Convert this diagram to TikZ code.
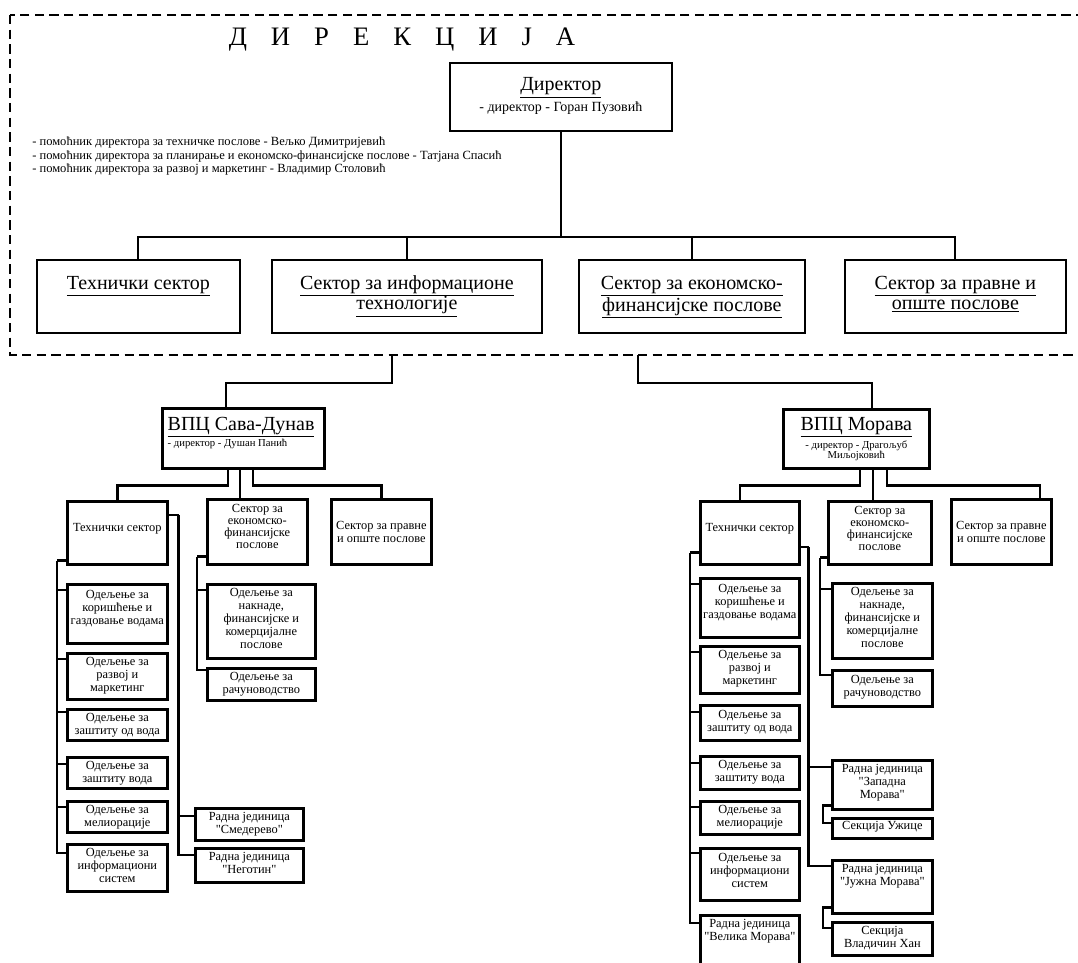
\documentclass[tikz,border=0pt]{standalone}
\usepackage{fontspec}
\setmainfont{Liberation Serif}
\usetikzlibrary{calc}

\newlength{\pxl}\setlength{\pxl}{0.75pt}
% box contents: [font/alignment]{width}{height}{top pad in pt}{text}
\newcommand{\boxtext}[5][]{\parbox[c][#3\pxl][t]{#2\pxl}{\centering#1\vspace*{#4pt}\strut#5}}
\newcommand{\qt}[1]{\textquotedbl#1\textquotedbl}

\tikzset{
  topbox/.style={draw, line width=1.3pt, inner sep=0pt, anchor=north west, font=\fontsize{15}{15.5}\selectfont},
  unit/.style={draw, line width=2pt, inner sep=0pt, anchor=north west, font=\fontsize{9.3}{9.75}\selectfont},
  toplink/.style={line width=1.5pt},
  link/.style={line width=1.8pt},
  border/.style={line width=1.5pt, dash pattern=on 7pt off 4pt},
}

\begin{document}
\begin{tikzpicture}[x=0.75pt, y=-0.75pt]
  \clip (0,0) rectangle (1078,963);
  \useasboundingbox (0,0) rectangle (1078,963);

  % Direkcija (top, dashed)
  \draw[border] (10,15) rectangle (1095,355);
  \node[font=\fontsize{20}{24}\selectfont, anchor=base] (title) at (402,46)
    {Д\hspace{18pt}И\hspace{18pt}Р\hspace{18pt}Е\hspace{18pt}К\hspace{18pt}Ц\hspace{18pt}И\hspace{18pt}Ј\hspace{18pt}А};
  \node[topbox] (dir) at (449,62)
    {\boxtext{222}{68}{10}{\underline{Директор}\\{\fontsize{10.5}{11}\selectfont - директор - Горан Пузовић}}};
  \node[anchor=north west, align=left, inner sep=0pt, font=\fontsize{9.4}{10}\selectfont] (asst) at (32,137)
    {- помоћник директора за техничке послове - Вељко Димитријевић\\
     - помоћник директора за планирање и економско-финансијске послове - Татјана Спасић\\
     - помоћник директора за развој и маркетинг - Владимир Столовић};

  % Sectors
  \node[topbox] (tech) at (36,259) {\boxtext{203}{73}{11}{\underline{Технички сектор}}};
  \node[topbox] (it) at (271,259) {\boxtext{270}{73}{11}{\underline{Сектор за информационе}\\\underline{технологије}}};
  \node[topbox] (econ) at (578,259) {\boxtext{226}{73}{11}{\underline{Сектор за економско-}\\\underline{финансијске послове}}};
  \node[topbox] (legal) at (844,259) {\boxtext{221}{73}{11}{\underline{Сектор за правне и}\\\underline{опште послове}}};

  \coordinate (busy) at (0,237);
  \draw[toplink] (dir.south) -- (dir.south |- busy);
  \draw[toplink] (tech.north) |- (dir.south |- busy) -| (legal.north);
  \draw[toplink] (it.north) -- (it.north |- busy);
  \draw[toplink] (econ.north) -- (econ.north |- busy);

  % VPC Sava-Dunav (left)
  \coordinate (outl) at (392,355);
  \node[unit] (vpcsd) at (161,407)
    {\boxtext[\fontsize{15}{15}\selectfont\raggedright\leftskip=4pt]{162}{60}{6}{\underline{ВПЦ Сава-Дунав}\\[-3pt]{\fontsize{8}{9}\selectfont - директор - Душан Панић}}};
  \draw[link] (outl) -- ++(0,28) -| ($(vpcsd.north west)+(65,0)$);

  \node[unit] (tsd) at (66,500) {\boxtext{100}{63}{16}{Технички сектор}};
  \node[unit] (esd) at (206,498) {\boxtext[\fontsize{9.3}{9.1}\selectfont]{100}{65}{3.5}{Сектор за\\економско-\\финансијске\\послове}};
  \node[unit] (psd) at (330,498) {\boxtext{100}{65}{16}{Сектор за правне\\и опште послове}};

  \coordinate (m1) at ($(vpcsd.south west)+(79,0)$);
  \draw[link] ($(vpcsd.south west)+(67,0)$) -- ++(0,16) -| (tsd.north);
  \draw[link] (m1) -- (m1 |- esd.north);
  \draw[link] ($(vpcsd.south west)+(92,0)$) -- ++(0,16) -| (psd.north);

  \node[unit] (sd1) at (66,583) {\boxtext{100}{59}{3.5}{Одељење за\\коришћење и\\газдовање водама}};
  \node[unit] (sd2) at (66,652) {\boxtext{100}{46}{2.2}{Одељење за\\развој и\\маркетинг}};
  \node[unit] (sd3) at (66,708) {\boxtext{100}{31}{2.2}{Одељење за\\заштиту од вода}};
  \node[unit] (sd4) at (66,756) {\boxtext{100}{31}{2.2}{Одељење за\\заштиту вода}};
  \node[unit] (sd5) at (66,800) {\boxtext{100}{31}{2.2}{Одељење за\\мелиорације}};
  \node[unit] (sd6) at (66,843) {\boxtext{100}{47}{2.2}{Одељење за\\информациони\\систем}};
  \coordinate (tsdl) at ($(tsd.south west)+(-9,-5)$);
  \draw[link] ($(tsd.south west)+(0,-5)$) -- (tsdl);
  \foreach \b/\d in {sd1/7, sd2/7, sd3/4, sd4/8, sd5/7, sd6/10}
    \draw[link] (tsdl) |- ($(\b.north west)+(0,\d)$);

  \node[unit] (rsm) at (194,807) {\boxtext{108}{32}{2.2}{Радна јединица\\\qt{Смедерево}}};
  \node[unit] (rng) at (194,847) {\boxtext{108}{34}{2.2}{Радна јединица\\\qt{Неготин}}};
  \coordinate (tsdr) at ($(tsd.north east)+(10,15)$);
  \draw[link] ($(tsd.north east)+(0,15)$) -- (tsdr);
  \foreach \b/\d in {rsm/9, rng/8}
    \draw[link] (tsdr) |- ($(\b.north west)+(0,\d)$);

  \node[unit] (sn1) at (206,583) {\boxtext{108}{74}{2.2}{Одељење за\\накнаде,\\финансијске и\\комерцијалне\\послове}};
  \node[unit] (sn2) at (206,667) {\boxtext{108}{32}{2.2}{Одељење за\\рачуноводство}};
  \coordinate (esdl) at ($(esd.south west)+(-9,-9)$);
  \draw[link] ($(esd.south west)+(0,-9)$) -- (esdl);
  \foreach \b/\d in {sn1/7, sn2/3}
    \draw[link] (esdl) |- ($(\b.north west)+(0,\d)$);

  % VPC Morava (right)
  \coordinate (outr) at (638,355);
  \node[unit] (vpcm) at (782,408)
    {\boxtext[\fontsize{15}{15}\selectfont]{146}{59}{5}{\underline{ВПЦ Морава}\\[2pt]{\fontsize{8}{9}\selectfont - директор - Драгољуб\\[-7.5pt]Миљојковић}}};
  \draw[link] (outr) -- ++(0,28) -| ($(vpcm.north west)+(90,0)$);

  \node[unit] (tm) at (699,500) {\boxtext{99}{63}{16}{Технички сектор}};
  \node[unit] (em) at (827,500) {\boxtext[\fontsize{9.3}{9.1}\selectfont]{103}{63}{3.5}{Сектор за\\економско-\\финансијске\\послове}};
  \node[unit] (pm) at (950,498) {\boxtext{100}{65}{16}{Сектор за правне\\и опште послове}};

  \coordinate (m2) at ($(vpcm.south west)+(91,0)$);
  \draw[link] ($(vpcm.south west)+(78,0)$) -- ++(0,16) -| ($(tm.north west)+(41,0)$);
  \draw[link] (m2) -- (m2 |- em.north);
  \draw[link] ($(vpcm.south west)+(105,0)$) -- ++(0,16) -| ($(pm.north west)+(90,0)$);

  \node[unit] (mt1) at (699,577) {\boxtext{99}{59}{3.5}{Одељење за\\коришћење и\\газдовање водама}};
  \node[unit] (mt2) at (699,645) {\boxtext{99}{47}{2.2}{Одељење за\\развој и\\маркетинг}};
  \node[unit] (mt3) at (699,704) {\boxtext{99}{35}{3}{Одељење за\\заштиту од вода}};
  \node[unit] (mt4) at (699,755) {\boxtext{99}{33}{2.2}{Одељење за\\заштиту вода}};
  \node[unit] (mt5) at (699,800) {\boxtext{99}{33}{2.2}{Одељење за\\мелиорације}};
  \node[unit] (mt6) at (699,847) {\boxtext{99}{52}{3}{Одељење за\\информациони\\систем}};
  \node[unit] (mt7) at (699,914) {\boxtext{99}{70}{2.2}{Радна јединица\\\qt{Велика Морава}}};
  \coordinate (tml) at ($(tm.south west)+(-9,-13)$);
  \draw[link] ($(tm.south west)+(0,-13)$) -- (tml);
  \foreach \b/\d in {mt1/7, mt2/7, mt3/8, mt4/8, mt5/7, mt6/6, mt7/9}
    \draw[link] (tml) |- ($(\b.north west)+(0,\d)$);

  \node[unit] (en1) at (831,582) {\boxtext{100}{75}{2.2}{Одељење за\\накнаде,\\финансијске и\\комерцијалне\\послове}};
  \node[unit] (en2) at (831,669) {\boxtext{100}{36}{3}{Одељење за\\рачуноводство}};
  \coordinate (eml) at ($(em.south west)+(-7,-8)$);
  \draw[link] ($(em.south west)+(0,-8)$) -- (eml);
  \foreach \b/\d in {en1/7, en2/6}
    \draw[link] (eml) |- ($(\b.north west)+(0,\d)$);

  \node[unit] (rz) at (831,759) {\boxtext{100}{49}{2.2}{Радна јединица\\\qt{Западна\\Морава}}};
  \node[unit] (rj) at (831,859) {\boxtext{100}{53}{2.2}{Радна јединица\\\qt{Јужна Морава}}};
  \coordinate (tmr) at ($(tm.north east)+(8,47)$);
  \draw[link] ($(tm.north east)+(0,47)$) -- (tmr);
  \foreach \b/\d in {rz/8, rj/7}
    \draw[link] (tmr) |- ($(\b.north west)+(0,\d)$);

  \node[unit] (su) at (831,817) {\boxtext{100}{20}{1.5}{Секција Ужице}};
  \node[unit] (vh) at (831,921) {\boxtext{100}{33}{2.2}{Секција\\Владичин Хан}};
  \coordinate (rzl) at ($(rz.south west)+(-8,-5)$);
  \draw[link] ($(rz.south west)+(0,-5)$) -- (rzl) |- ($(su.north west)+(0,6)$);
  \coordinate (rjl) at ($(rj.south west)+(-8,-7)$);
  \draw[link] ($(rj.south west)+(0,-7)$) -- (rjl) |- ($(vh.north west)+(0,7)$);
\end{tikzpicture}
\end{document}
